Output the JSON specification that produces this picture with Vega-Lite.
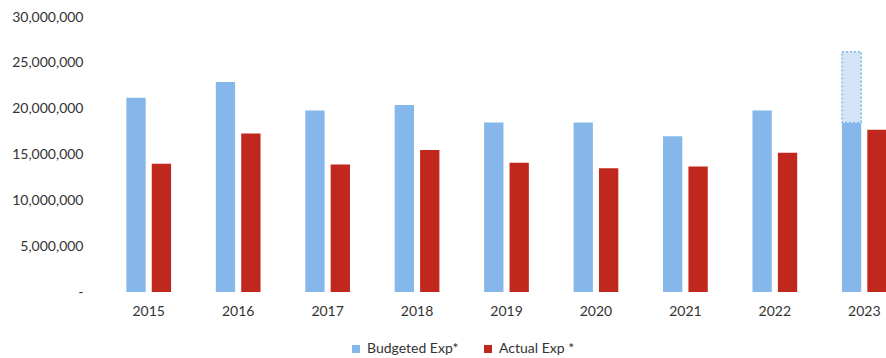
{
  "$schema": "https://vega.github.io/schema/vega-lite/v6.json",
  "width": 782,
  "height": 275,
  "autosize": {"type": "none"},
  "padding": {"left": 104, "top": 17, "right": 0, "bottom": 66},
  "background": "white",
  "config": {
    "font": "Lato",
    "view": {"stroke": null},
    "axis": {"labelFont": "Lato", "labelFontSize": 14, "labelColor": "#333333", "domain": false, "ticks": false, "grid": false, "title": null},
    "legend": {"labelFont": "Lato", "labelFontSize": 14, "labelColor": "#333333"}
  },
  "datasets": {
    "main": [
      {"year": "2015", "series": "Budgeted Exp*", "value": 21200000},
      {"year": "2015", "series": "Actual Exp *", "value": 14000000},
      {"year": "2016", "series": "Budgeted Exp*", "value": 22900000},
      {"year": "2016", "series": "Actual Exp *", "value": 17300000},
      {"year": "2017", "series": "Budgeted Exp*", "value": 19800000},
      {"year": "2017", "series": "Actual Exp *", "value": 13900000},
      {"year": "2018", "series": "Budgeted Exp*", "value": 20400000},
      {"year": "2018", "series": "Actual Exp *", "value": 15500000},
      {"year": "2019", "series": "Budgeted Exp*", "value": 18500000},
      {"year": "2019", "series": "Actual Exp *", "value": 14100000},
      {"year": "2020", "series": "Budgeted Exp*", "value": 18500000},
      {"year": "2020", "series": "Actual Exp *", "value": 13500000},
      {"year": "2021", "series": "Budgeted Exp*", "value": 17000000},
      {"year": "2021", "series": "Actual Exp *", "value": 13700000},
      {"year": "2022", "series": "Budgeted Exp*", "value": 19800000},
      {"year": "2022", "series": "Actual Exp *", "value": 15200000},
      {"year": "2023", "series": "Budgeted Exp*", "value": 18500000},
      {"year": "2023", "series": "Actual Exp *", "value": 17700000}
    ],
    "extra": [
      {"year": "2023", "series": "Budgeted Exp*", "low": 18500000, "high": 26200000}
    ]
  },
  "encoding": {
    "x": {
      "field": "year", "type": "nominal",
      "scale": {"range": [0, 805], "paddingInner": 0.5, "paddingOuter": 0.25},
      "axis": {"labelAngle": 0, "labelPadding": 12}
    },
    "xOffset": {
      "field": "series", "type": "nominal",
      "scale": {"domain": ["Budgeted Exp*", "Actual Exp *"], "paddingInner": 0.24, "paddingOuter": 0}
    }
  },
  "layer": [
    {
      "data": {"name": "main"},
      "mark": {"type": "bar"},
      "encoding": {
        "y": {
          "field": "value", "type": "quantitative",
          "scale": {"domain": [0, 30000000], "nice": false},
          "axis": {
            "values": [0, 5000000, 10000000, 15000000, 20000000, 25000000, 30000000],
            "format": ",d",
            "labelExpr": "datum.value == 0 ? '-' : datum.label",
            "labelPadding": 21
          }
        },
        "color": {
          "field": "series", "type": "nominal",
          "scale": {"domain": ["Budgeted Exp*", "Actual Exp *"], "range": ["#86b7ea", "#c0271d"]},
          "legend": {
            "orient": "none", "legendX": 245, "legendY": 325, "direction": "horizontal", "title": null,
            "symbolType": "square", "symbolSize": 64, "columnPadding": 22,
            "labelOffset": 4
          }
        }
      }
    },
    {
      "data": {"name": "extra"},
      "mark": {"type": "bar", "fill": "#d3e4f7", "stroke": "#86b7ea", "strokeWidth": 1.5, "strokeDash": [2, 2]},
      "encoding": {
        "y": {"field": "low", "type": "quantitative"},
        "y2": {"field": "high"}
      }
    }
  ]
}
